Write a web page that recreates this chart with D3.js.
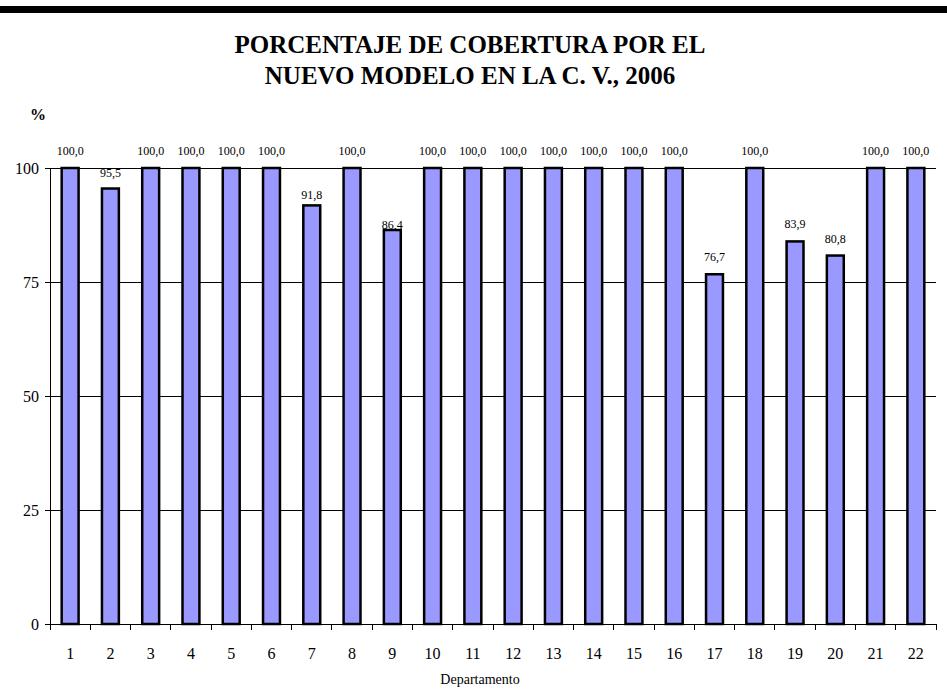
<!DOCTYPE html>
<html>
<head>
<meta charset="utf-8">
<script src="https://cdn.jsdelivr.net/npm/d3@7/dist/d3.min.js"></script>
<style>
  html, body { margin: 0; padding: 0; background: #fff; }
  svg { display: block; }
  svg text { font-family: "Liberation Serif", "Times New Roman", Times, "DejaVu Serif", serif !important; fill: #000; }
</style>
</head>
<body>
<svg id="chart" width="947" height="691"></svg>
<script>
const categories = ["1","2","3","4","5","6","7","8","9","10","11","12","13","14","15","16","17","18","19","20","21","22"];
const values = [100.0, 95.5, 100.0, 100.0, 100.0, 100.0, 91.8, 100.0, 86.4, 100.0, 100.0, 100.0, 100.0, 100.0, 100.0, 100.0, 76.7, 100.0, 83.9, 80.8, 100.0, 100.0];
const yTicks = [0, 25, 50, 75, 100];
const titleLines = ["PORCENTAJE DE COBERTURA POR EL", "NUEVO MODELO EN LA C. V., 2006"];
const xAxisTitle = "Departamento";
const yAxisTitle = "%";

const FONT = "'Liberation Serif', 'Times New Roman', serif";
const data = categories.map((c, i) => ({ cat: c, val: values[i] }));

const svg = d3.select("#chart");
const W = 947, H = 691;
const plot = { left: 50, right: 936, top: 168, bottom: 624 };

// top black band
svg.append("rect").attr("x", 0).attr("y", 6).attr("width", W).attr("height", 7).attr("fill", "#000");

// title
svg.append("g").selectAll("text").data(titleLines).join("text")
  .attr("x", 470).attr("y", (d, i) => 53 + i * 31)
  .attr("text-anchor", "middle").attr("font-family", FONT)
  .attr("font-size", 25).attr("font-weight", "bold")
  .text(d => d);

const x = d3.scaleBand().domain(categories).range([plot.left, plot.right]).paddingInner(0.58).paddingOuter(0.29);
const y = d3.scaleLinear().domain([0, 100]).range([plot.bottom, plot.top]);

// value labels (drawn beneath gridlines as in the original)
const labelLift = { "2": 12, "7": 6, "9": 1 };
svg.append("g").selectAll("text").data(data).join("text")
  .attr("x", d => x(d.cat) + x.bandwidth() / 2)
  .attr("y", d => y(d.val) - (labelLift[d.cat] !== undefined ? labelLift[d.cat] : 13))
  .attr("text-anchor", "middle").attr("font-size", 12).attr("font-family", FONT)
  .text(d => d.val.toFixed(1).replace(".", ","));

// gridlines
svg.append("g").selectAll("line").data(yTicks.filter(t => t > 0)).join("line")
  .attr("x1", plot.left).attr("x2", plot.right)
  .attr("y1", d => y(d)).attr("y2", d => y(d))
  .attr("stroke", "#000").attr("stroke-width", 1).attr("shape-rendering", "crispEdges");

// bars
svg.append("g").selectAll("rect").data(data).join("rect")
  .attr("x", d => x(d.cat)).attr("width", x.bandwidth())
  .attr("y", d => y(d.val)).attr("height", d => y(0) - y(d.val))
  .attr("fill", "#9999ff").attr("stroke", "#000").attr("stroke-width", 2.5);

// y axis
const yAxis = d3.axisLeft(y).tickValues(yTicks).tickSize(5).tickPadding(6).tickFormat(d3.format("d"));
const gy = svg.append("g").attr("transform", `translate(${plot.left},0)`).call(yAxis);
gy.attr("font-family", FONT);
gy.select(".domain").attr("stroke", "#000");
gy.selectAll("text").attr("font-size", 16).attr("font-family", FONT).attr("fill", "#000");

// x axis with ticks between categories
const gx = svg.append("g").attr("transform", `translate(0,${plot.bottom})`);
gx.append("line").attr("x1", plot.left).attr("x2", plot.right).attr("stroke", "#000").attr("shape-rendering", "crispEdges");
const bounds = d3.range(categories.length + 1).map(i => plot.left + i * (plot.right - plot.left) / categories.length);
gx.selectAll("line.tk").data(bounds).join("line").attr("class", "tk")
  .attr("x1", d => d).attr("x2", d => d).attr("y1", 0).attr("y2", 6)
  .attr("stroke", "#000").attr("shape-rendering", "crispEdges");
gx.selectAll("text").data(categories).join("text")
  .attr("x", d => x(d) + x.bandwidth() / 2).attr("y", 35)
  .attr("text-anchor", "middle").attr("font-size", 16).attr("font-family", FONT)
  .text(d => d);

// axis titles
svg.append("text").attr("x", 480).attr("y", 684).attr("text-anchor", "middle").attr("font-size", 14).attr("font-family", FONT).text(xAxisTitle);
svg.append("text").attr("x", 38).attr("y", 120).attr("text-anchor", "middle").attr("font-size", 16).attr("font-weight", "bold").attr("font-family", FONT).text(yAxisTitle);
</script>
</body>
</html>
